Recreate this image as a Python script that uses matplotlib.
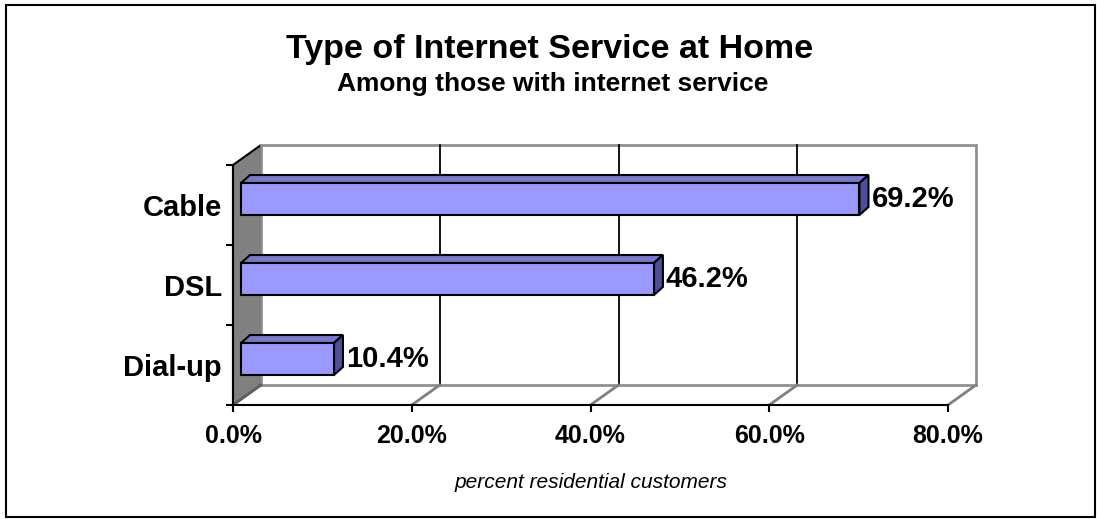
import matplotlib
matplotlib.use("Agg")
import matplotlib.pyplot as plt
from matplotlib.patches import Polygon, Rectangle
from matplotlib.transforms import ScaledTranslation

plt.rcParams['font.family'] = ['Liberation Sans', 'DejaVu Sans']

# Dados
categorias = ["Dial-up", "DSL", "Cable"]
valores = [10.4, 46.2, 69.2]
rotulos = ["10.4%", "46.2%", "69.2%"]
ticks_x = [0, 20, 40, 60, 80]
ticks_x_rotulos = ["0.0%", "20.0%", "40.0%", "60.0%", "80.0%"]

fig = plt.figure(figsize=(10.97, 5.19), dpi=100)
ax = fig.add_axes([233 / 1097, 114 / 519, 715 / 1097, 240 / 519])
ax.set_xlim(0, 80)
ax.set_ylim(-0.5, 2.5)

def desloc(dx, dy):
    # deslocamento em pixels (dpi 100) para o efeito 3D
    return ax.transData + ScaledTranslation(dx / 100, dy / 100, fig.dpi_scale_trans)

prof = desloc(28, 20)     # parede do fundo
frente_barra = desloc(8, 6)
fundo_barra = desloc(17, 14)

cinza = "#808080"
inv = ax.transData.inverted()

# parede esquerda
pts_frente = ax.transData.transform([(0, -0.5), (0, 2.5)])
pts_fundo = prof.transform([(0, 2.5), (0, -0.5)])
parede = Polygon(inv.transform(list(pts_frente) + list(pts_fundo)), closed=True,
                 facecolor=cinza, edgecolor="black", lw=1.5, zorder=1, clip_on=False)
ax.add_patch(parede)

# parede do fundo
ax.add_patch(Rectangle((0, -0.5), 80, 3, transform=prof, facecolor="white",
                       edgecolor="#909090", lw=2, zorder=1.1, clip_on=False))
for x in ticks_x[1:-1]:
    ax.plot([x, x], [-0.5, 2.5], color="black", lw=1.3, transform=prof,
            zorder=1.2, clip_on=False)

# chão: linhas diagonais
for x in ticks_x:
    p0 = ax.transData.transform((x, -0.5))
    p1 = prof.transform((x, -0.5))
    q = inv.transform([p0, p1])
    ax.plot(q[:, 0], q[:, 1], color=cinza if x > 0 else "#606060", lw=2,
            zorder=1.3, clip_on=False)

# barras 3D
h = 0.4
for i, v in enumerate(valores):
    y0, y1 = i - h / 2, i + h / 2
    f = inv.transform(frente_barra.transform([(0, y0), (v, y0), (v, y1), (0, y1)]))
    b = inv.transform(fundo_barra.transform([(0, y0), (v, y0), (v, y1), (0, y1)]))
    topo = Polygon([f[3], f[2], b[2], b[3]], closed=True, facecolor="#7777cc",
                   edgecolor="black", lw=1.5, zorder=3, clip_on=False)
    lado = Polygon([f[1], b[1], b[2], f[2]], closed=True, facecolor="#4f4f99",
                   edgecolor="black", lw=1.5, zorder=3, clip_on=False)
    ax.add_patch(topo)
    ax.add_patch(lado)
    ax.add_patch(Rectangle((0, y0), v, h, transform=frente_barra, facecolor="#9999ff",
                           edgecolor="black", lw=1.5, zorder=4, clip_on=False))
    ax.text(v, i, rotulos[i], transform=desloc(20, 6), ha="left", va="center",
            fontsize=21, fontweight="bold", zorder=5)

# eixos
for s in ["top", "right"]:
    ax.spines[s].set_visible(False)
for s in ["left", "bottom"]:
    ax.spines[s].set_linewidth(1.5)
    ax.spines[s].set_zorder(2)
ax.set_xticks(ticks_x)
ax.set_xticklabels(ticks_x_rotulos, fontsize=18, fontweight="bold")
ax.tick_params(axis="x", length=5, width=1.5, pad=9)
ax.set_yticks(range(len(categorias)))
ax.set_yticklabels(categorias, fontsize=21, fontweight="bold")
ax.set_yticks([-0.5, 0.5, 1.5, 2.5], minor=True)
ax.tick_params(axis="y", which="major", length=0, pad=8)
ax.tick_params(axis="y", which="minor", length=5, width=1.5)
ax.patch.set_visible(False)

fig.text(550 / 1097, 1 - 58 / 519, "Type of Internet Service at Home", ha="center",
         va="baseline", fontsize=24.5, fontweight="bold")
fig.text(553 / 1097, 1 - 91 / 519, "Among those with internet service", ha="center",
         va="baseline", fontsize=19, fontweight="bold")
fig.text(591 / 1097, 1 - 483 / 519, "percent residential customers", ha="center",
         va="center", fontsize=15, fontstyle="italic")

fig.patches.append(Rectangle((6 / 1097, 2 / 519), 1089 / 1097, 512 / 519,
                             transform=fig.transFigure, fill=False,
                             edgecolor="black", lw=1.5))

fig.savefig("out.png", dpi=100)
